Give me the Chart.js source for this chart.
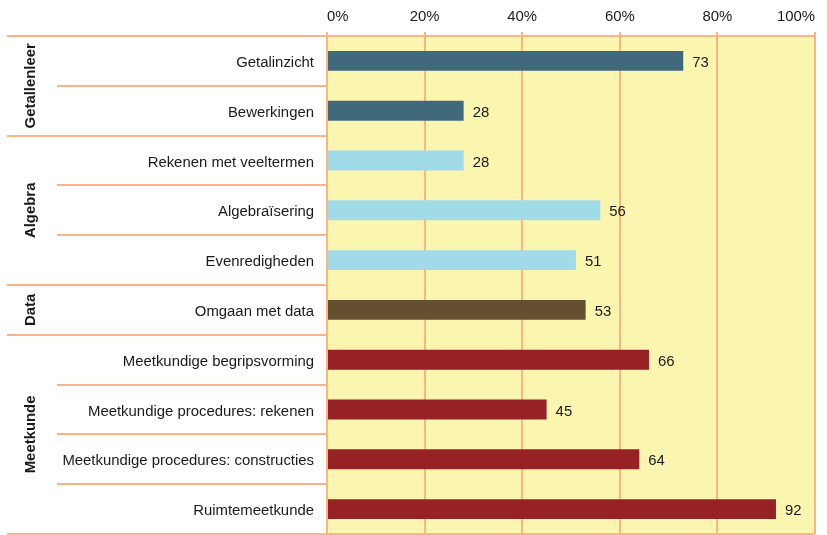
<!DOCTYPE html>
<html>
<head>
<meta charset="utf-8">
<script src="https://cdn.jsdelivr.net/npm/chart.js@4/dist/chart.umd.min.js"></script>
<style>
  html, body { margin: 0; padding: 0; background: #fff; }
  #wrap { width: 827px; height: 535px; }
</style>
</head>
<body>
<div id="wrap"><canvas id="chart" width="827" height="535"></canvas></div>
<script>
const categories = [
    'Getalinzicht',
    'Bewerkingen',
    'Rekenen met veeltermen',
    'Algebraïsering',
    'Evenredigheden',
    'Omgaan met data',
    'Meetkundige begripsvorming',
    'Meetkundige procedures: rekenen',
    'Meetkundige procedures: constructies',
    'Ruimtemeetkunde'
];
const scores = [73, 28, 28, 56, 51, 53, 66, 45, 64, 92];
const groupNames = ['Getallenleer', 'Algebra', 'Data', 'Meetkunde'];
const groupOf = [0, 0, 1, 1, 1, 2, 3, 3, 3, 3];
const xTicks = [0, 20, 40, 60, 80, 100];

const groupColors = ['#41697D', '#A1DAE9', '#654F31', '#962225'];
const lineColor = '#FBB585';
const plotBg = '#FAF6B0';
const textColor = '#1a1a1a';
const font = 'Liberation Sans, Arial, sans-serif';
const fontSize = 14.9;

// yellow plot background, separators, group labels
const framePlugin = {
    id: 'frame',
    beforeDraw(chart) {
        const { ctx, chartArea: a } = chart;
        ctx.save();
        ctx.fillStyle = plotBg;
        ctx.fillRect(a.left, a.top, a.right - a.left, a.bottom - a.top);
        ctx.restore();
    },
    afterDraw(chart) {
        const { ctx, chartArea: a } = chart;
        const y = chart.scales.y;
        const half = (y.getPixelForValue(1) - y.getPixelForValue(0)) / 2;
        ctx.save();
        ctx.strokeStyle = lineColor;
        ctx.lineWidth = 2;

        // horizontal separators in the label area
        for (let i = 0; i <= categories.length; i++) {
            const py = Math.round(i < categories.length ? y.getPixelForValue(i) - half : y.getPixelForValue(i - 1) + half);
            const isGroupEdge = i === 0 || i === categories.length || groupOf[i] !== groupOf[i - 1];
            ctx.beginPath();
            ctx.moveTo(isGroupEdge ? 7 : 57, py);
            ctx.lineTo(i === 0 || i === categories.length ? a.right : a.left, py);
            ctx.stroke();
        }
        // left and right border of plot
        ctx.beginPath();
        ctx.moveTo(a.left, a.top);
        ctx.lineTo(a.left, a.bottom);
        ctx.moveTo(a.right, a.top);
        ctx.lineTo(a.right, a.bottom);
        ctx.stroke();

        // rotated group labels
        ctx.fillStyle = textColor;
        ctx.font = 'bold ' + fontSize + 'px ' + font;
        ctx.textAlign = 'center';
        ctx.textBaseline = 'middle';
        groupNames.forEach((name, g) => {
            const idx = groupOf.map((v, i) => v === g ? i : -1).filter(i => i >= 0);
            const top = y.getPixelForValue(idx[0]) - half;
            const bottom = y.getPixelForValue(idx[idx.length - 1]) + half;
            ctx.save();
            ctx.translate(31, (top + bottom) / 2);
            ctx.rotate(-Math.PI / 2);
            ctx.fillText(name, 0, 0);
            ctx.restore();
        });
        ctx.restore();
    }
};

// value labels next to bars
const valuePlugin = {
    id: 'values',
    afterDatasetsDraw(chart) {
        const { ctx } = chart;
        const meta = chart.getDatasetMeta(0);
        ctx.save();
        ctx.fillStyle = textColor;
        ctx.font = fontSize + 'px ' + font;
        ctx.textAlign = 'left';
        ctx.textBaseline = 'middle';
        meta.data.forEach((bar, i) => {
            ctx.fillText(String(scores[i]), bar.x + 9, bar.y + 2);
        });
        ctx.restore();
    }
};

new Chart(document.getElementById('chart'), {
    type: 'bar',
    data: {
        labels: categories,
        datasets: [{
            data: scores,
            backgroundColor: groupOf.map(g => groupColors[g]),
            borderWidth: 0,
            barPercentage: 0.4,
            categoryPercentage: 1
        }]
    },
    options: {
        indexAxis: 'y',
        responsive: false,
        animation: false,
        layout: { padding: { left: 0, right: 12, top: 0, bottom: 1 } },
        plugins: {
            legend: { display: false },
            tooltip: { enabled: false }
        },
        scales: {
            x: {
                position: 'top',
                min: 0,
                max: 100,
                afterBuildTicks: scale => {
                    scale.ticks = xTicks.map(v => ({ value: v }));
                },
                afterFit: scale => {
                    scale.height = 36;
                    scale.paddingLeft = 0;
                    scale.paddingRight = 0;
                    scale.paddingTop = 0;
                    scale.paddingBottom = 0;
                },
                grid: {
                    color: lineColor,
                    lineWidth: 2,
                    tickLength: 4,
                    tickColor: lineColor
                },
                border: { display: false },
                ticks: {
                    align: 'inner',
                    maxRotation: 0,
                    padding: 6,
                    color: textColor,
                    font: { family: font, size: fontSize },
                    callback: v => v + '%'
                }
            },
            y: {
                afterFit: scale => {
                    scale.width = 327;
                    scale.paddingTop = 0;
                    scale.paddingBottom = 0;
                    scale.paddingLeft = 0;
                    scale.paddingRight = 0;
                },
                grid: { display: false },
                border: { display: false },
                ticks: {
                    padding: 5,
                    labelOffset: 2,
                    color: textColor,
                    font: { family: font, size: fontSize }
                }
            }
        }
    },
    plugins: [framePlugin, valuePlugin]
});
</script>
</body>
</html>
